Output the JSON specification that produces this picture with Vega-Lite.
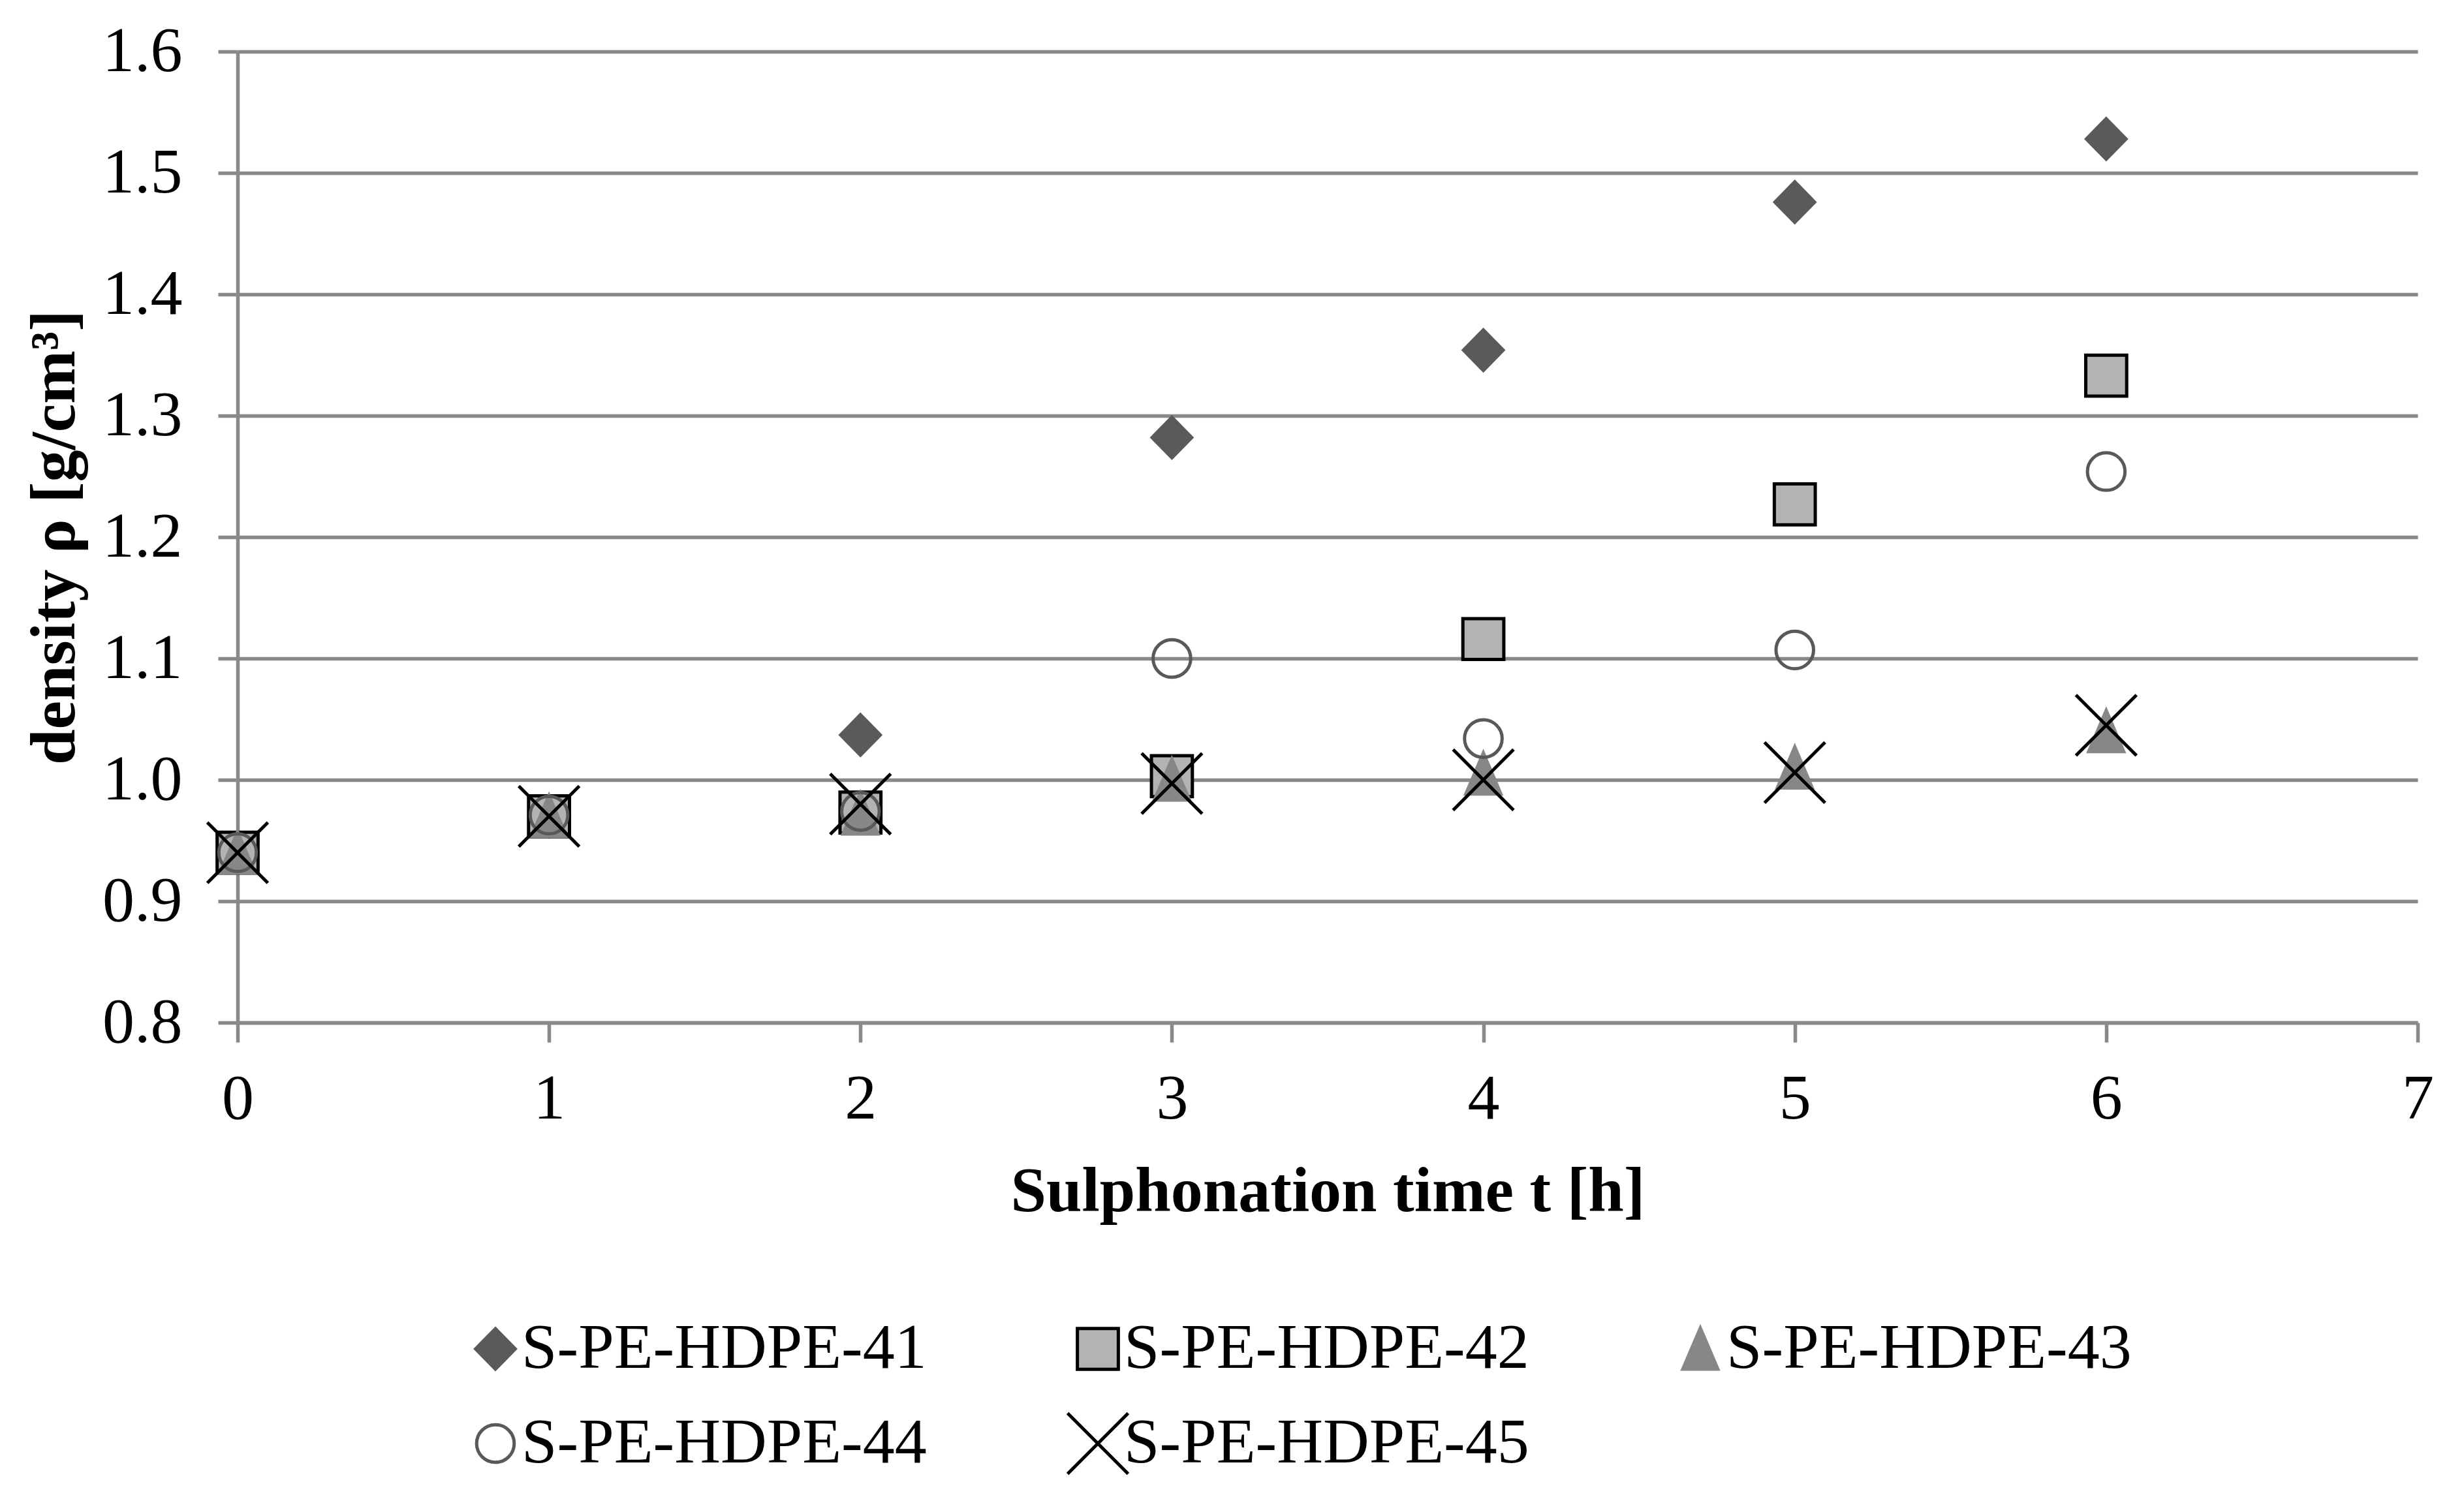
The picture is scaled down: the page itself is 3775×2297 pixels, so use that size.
{
  "$schema": "https://vega.github.io/schema/vega-lite/v6.json",
  "width": 3340,
  "height": 1488,
  "autosize": {"type": "none"},
  "padding": {"left": 364, "top": 79, "right": 71, "bottom": 730},
  "background": "white",
  "config": {
    "view": {"stroke": null},
    "font": "Liberation Serif",
    "axis": {
      "labelFont": "Liberation Serif",
      "labelFontSize": 98,
      "labelColor": "black",
      "titleFont": "Liberation Serif",
      "titleFontSize": 98,
      "titleFontWeight": "bold",
      "titleColor": "black",
      "domainColor": "#898989",
      "domainWidth": 5.5,
      "tickColor": "#898989",
      "tickWidth": 5.5,
      "tickSize": 30,
      "gridColor": "#898989",
      "gridWidth": 5.5
    }
  },
  "data": {
    "values": [
      {"t": 0, "rho": 0.94, "series": "S-PE-HDPE-41"},
      {"t": 1, "rho": 0.97, "series": "S-PE-HDPE-41"},
      {"t": 2, "rho": 1.037, "series": "S-PE-HDPE-41"},
      {"t": 3, "rho": 1.282, "series": "S-PE-HDPE-41"},
      {"t": 4, "rho": 1.354, "series": "S-PE-HDPE-41"},
      {"t": 5, "rho": 1.476, "series": "S-PE-HDPE-41"},
      {"t": 6, "rho": 1.528, "series": "S-PE-HDPE-41"},
      {"t": 0, "rho": 0.94, "series": "S-PE-HDPE-42"},
      {"t": 1, "rho": 0.97, "series": "S-PE-HDPE-42"},
      {"t": 2, "rho": 0.973, "series": "S-PE-HDPE-42"},
      {"t": 3, "rho": 1.003, "series": "S-PE-HDPE-42"},
      {"t": 4, "rho": 1.116, "series": "S-PE-HDPE-42"},
      {"t": 5, "rho": 1.227, "series": "S-PE-HDPE-42"},
      {"t": 6, "rho": 1.333, "series": "S-PE-HDPE-42"},
      {"t": 0, "rho": 0.94, "series": "S-PE-HDPE-43"},
      {"t": 1, "rho": 0.97, "series": "S-PE-HDPE-43"},
      {"t": 2, "rho": 0.972, "series": "S-PE-HDPE-43"},
      {"t": 3, "rho": 1.0, "series": "S-PE-HDPE-43"},
      {"t": 4, "rho": 1.005, "series": "S-PE-HDPE-43"},
      {"t": 5, "rho": 1.01, "series": "S-PE-HDPE-43"},
      {"t": 6, "rho": 1.04, "series": "S-PE-HDPE-43"},
      {"t": 0, "rho": 0.94, "series": "S-PE-HDPE-44"},
      {"t": 1, "rho": 0.971, "series": "S-PE-HDPE-44"},
      {"t": 2, "rho": 0.974, "series": "S-PE-HDPE-44"},
      {"t": 3, "rho": 1.1, "series": "S-PE-HDPE-44"},
      {"t": 4, "rho": 1.034, "series": "S-PE-HDPE-44"},
      {"t": 5, "rho": 1.107, "series": "S-PE-HDPE-44"},
      {"t": 6, "rho": 1.254, "series": "S-PE-HDPE-44"},
      {"t": 0, "rho": 0.94, "series": "S-PE-HDPE-45"},
      {"t": 1, "rho": 0.97, "series": "S-PE-HDPE-45"},
      {"t": 2, "rho": 0.98, "series": "S-PE-HDPE-45"},
      {"t": 3, "rho": 0.997, "series": "S-PE-HDPE-45"},
      {"t": 4, "rho": 1.0, "series": "S-PE-HDPE-45"},
      {"t": 5, "rho": 1.006, "series": "S-PE-HDPE-45"},
      {"t": 6, "rho": 1.045, "series": "S-PE-HDPE-45"}
    ]
  },
  "mark": {"type": "point", "filled": true, "opacity": 1, "strokeWidth": 5, "size": 4096},
  "encoding": {
    "x": {
      "field": "t",
      "type": "quantitative",
      "scale": {"domain": [0, 7], "nice": false, "zero": false},
      "axis": {
        "title": "Sulphonation time t [h]",
        "values": [0, 1, 2, 3, 4, 5, 6, 7],
        "grid": false,
        "labelFlush": false,
        "labelPadding": 39,
        "titlePadding": 45,
        "format": "d"
      }
    },
    "y": {
      "field": "rho",
      "type": "quantitative",
      "scale": {"domain": [0.8, 1.6], "nice": false, "zero": false},
      "axis": {
        "title": "density ρ [g/cm³]",
        "values": [0.8, 0.9, 1.0, 1.1, 1.2, 1.3, 1.4, 1.5, 1.6],
        "format": ".1f",
        "grid": true,
        "labelPadding": 55,
        "titlePadding": 30
      }
    },
    "shape": {
      "field": "series",
      "type": "nominal",
      "scale": {
        "domain": ["S-PE-HDPE-41", "S-PE-HDPE-42", "S-PE-HDPE-43", "S-PE-HDPE-44", "S-PE-HDPE-45"],
        "range": [
          "M0,-0.97L0.95,0L0,0.97L-0.95,0Z",
          "M-0.98,-0.98H0.98V0.98H-0.98Z",
          "M0,-1L-0.84,0.97L0.84,0.97Z",
          "M0.9,0A0.9,0.9,0,1,1,-0.9,0A0.9,0.9,0,1,1,0.9,0Z",
          "M-1.45,-1.45L1.45,1.45M1.45,-1.45L-1.45,1.45"
        ]
      },
      "legend": {
        "title": null,
        "orient": "none",
        "legendX": 346,
        "legendY": 1935,
        "direction": "horizontal",
        "columns": 3,
        "gridAlign": "all",
        "columnPadding": 205,
        "rowPadding": 35,
        "symbolSize": 4096,
        "symbolStrokeWidth": 5,
        "labelFont": "Liberation Serif",
        "labelFontSize": 98,
        "labelColor": "black",
        "labelOffset": -9,
        "labelLimit": 0,
        "padding": 0,
        "encode": {
          "symbols": {
            "update": {
              "shape": {"signal": "datum.value === 'S-PE-HDPE-45' ? 'M-0.95,-1.02L0.95,1.02M0.95,-1.02L-0.95,1.02' : scale('shape', datum.value)"}
            }
          }
        }
      }
    },
    "fill": {
      "field": "series",
      "type": "nominal",
      "scale": {
        "domain": ["S-PE-HDPE-41", "S-PE-HDPE-42", "S-PE-HDPE-43", "S-PE-HDPE-44", "S-PE-HDPE-45"],
        "range": ["#5a5a5a", "#b3b3b3", "#878787", "transparent", "transparent"]
      }
    },
    "stroke": {
      "field": "series",
      "type": "nominal",
      "scale": {
        "domain": ["S-PE-HDPE-41", "S-PE-HDPE-42", "S-PE-HDPE-43", "S-PE-HDPE-44", "S-PE-HDPE-45"],
        "range": ["#5a5a5a", "#000000", "#878787", "#595959", "#000000"]
      }
    }
  }
}
